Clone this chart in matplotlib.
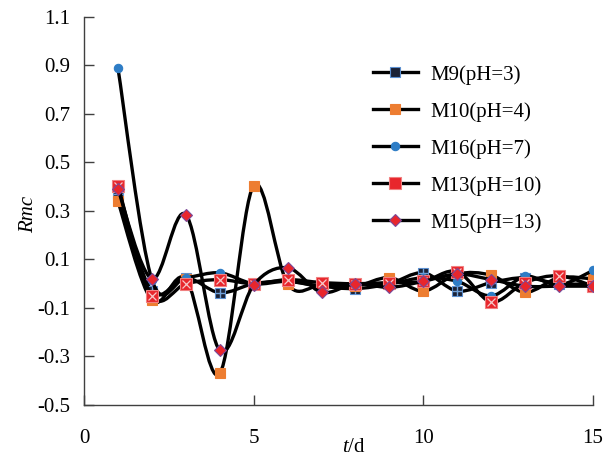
import matplotlib
matplotlib.use("Agg")
import matplotlib.pyplot as plt
from matplotlib.path import Path
from matplotlib.patches import PathPatch
from matplotlib.lines import Line2D
import numpy as np

plt.rcParams['font.family'] = ['Liberation Serif', 'DejaVu Serif']
plt.rcParams['mathtext.fontset'] = 'custom'
plt.rcParams['mathtext.it'] = 'Liberation Serif:italic'
plt.rcParams['mathtext.rm'] = 'Liberation Serif'

# Rmc over time for each sample
days = np.arange(1, 16)
m9 = [0.37, -0.03, 0.025, -0.037, 0.0, 0.01, -0.01, -0.02, 0.0, 0.045, -0.03, 0.005, 0.025, 0.0, 0.0]
m10 = [0.34, -0.069, 0.02, -0.37, 0.405, 0.0, -0.005, -0.01, 0.025, -0.03, 0.04, 0.035, -0.035, 0.025, 0.02]
m16 = [0.89, 0.017, 0.025, 0.045, 0.0, 0.01, -0.01, 0.0, 0.0, 0.025, 0.01, -0.05, 0.03, -0.005, 0.055]
m13 = [0.405, -0.05, 0.0, 0.017, 0.0, 0.017, 0.005, 0.0, 0.005, 0.01, 0.05, -0.075, 0.005, 0.033, -0.01]
m15 = [0.39, 0.02, 0.285, -0.275, -0.005, 0.066, -0.035, 0.0, -0.015, 0.01, 0.04, 0.017, -0.01, -0.01, -0.01]

labels = ['M9(pH=3)', 'M10(pH=4)', 'M16(pH=7)', 'M13(pH=10)', 'M15(pH=13)']
series = [m9, m10, m16, m13, m15]

# marker styles: (marker, face, edge, size)
styles = [
    ('s', '#1b2236', '#5b8fd0', 7),
    ('s', '#ed7d31', '#ed7d31', 7),
    ('o', '#2e7dc6', '#2e7dc6', 6),
    ('s', '#e8262c', '#f08080', 8),
    ('D', '#e8262c', '#7a4a9a', 6),
]


def smooth_path(x, y):
    # excel style smoothed line: cubic bezier through every point
    pts = np.column_stack([x, y]).astype(float)
    n = len(pts)
    verts = [pts[0]]
    codes = [Path.MOVETO]
    for i in range(n - 1):
        p0 = pts[max(i - 1, 0)]
        p1 = pts[i]
        p2 = pts[i + 1]
        p3 = pts[min(i + 2, n - 1)]
        c1 = p1 + (p2 - p0) / 6
        c2 = p2 - (p3 - p1) / 6
        verts += [c1, c2, p2]
        codes += [Path.CURVE4] * 3
    return Path(verts, codes)


fig = plt.figure(figsize=(6.06, 4.57), dpi=100)
ax = fig.add_axes([0.1386, 0.1138, 0.84, 0.849])

handles = []
for k, (vals, lab, st) in enumerate(zip(series, labels, styles)):
    mk, fc, ec, ms = st
    ax.add_patch(PathPatch(smooth_path(days, vals), fill=False, lw=2.4,
                           edgecolor='black', zorder=2 + 2 * k))
    ax.plot(days, vals, ls='none', marker=mk, ms=ms, mfc=fc, mec=ec, mew=0.8,
            zorder=3 + 2 * k)
    if k == 0:
        ax.plot(days, vals, ls='none', marker='+', ms=7, mec='#6fa0d8', mew=1.0,
                zorder=3 + 2 * k)
    if k == 3:
        ax.plot(days, vals, ls='none', marker='x', ms=6, mec='#f6c8c8', mew=0.9,
                zorder=3 + 2 * k)
    handles.append(Line2D([], [], color='black', lw=2.4, marker=mk, ms=ms,
                          mfc=fc, mec=ec, mew=0.8))

ax.set_xlim(0, 15)
ax.set_ylim(-0.5, 1.1)
ax.set_xticks([0, 5, 10, 15])
ax.set_yticks(np.arange(-0.5, 1.11, 0.2))
ax.set_yticklabels(['%.1f' % v for v in np.arange(-0.5, 1.11, 0.2)])

for s in ['top', 'right']:
    ax.spines[s].set_visible(False)
for s in ['left', 'bottom']:
    ax.spines[s].set_color('#404040')
    ax.spines[s].set_linewidth(1.0)

ax.tick_params(axis='y', direction='in', length=7, width=1.0, color='#404040',
               labelsize=15, pad=10)
ax.tick_params(axis='x', direction='in', length=7, width=1.0, color='#404040',
               labelsize=15, pad=17)

ax.set_ylabel('Rmc', style='italic', fontsize=15)
ax.yaxis.set_label_coords(-0.09, 0.49)
ax.set_xlabel('$\\it{t}$/d', fontsize=15)
ax.xaxis.set_label_coords(0.53, -0.085)

ax.legend(handles, labels, loc='upper left', bbox_to_anchor=(0.53, 0.925),
          frameon=False, fontsize=15, handlelength=2.2, labelspacing=0.83,
          handletextpad=0.6)

fig.savefig('out.png', dpi=100)
